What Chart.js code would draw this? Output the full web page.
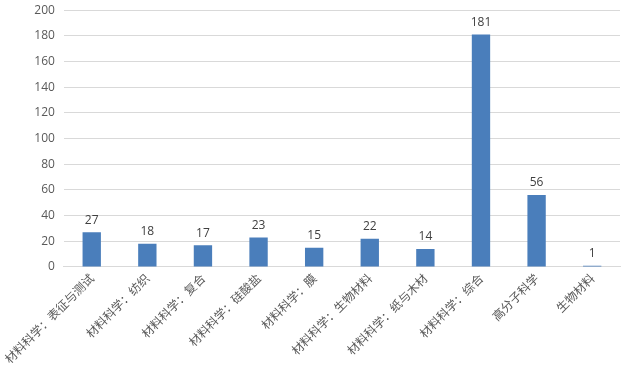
<!DOCTYPE html>
<html>
<head>
<meta charset="utf-8">
<script src="https://cdn.jsdelivr.net/npm/chart.js@4"></script>
<style>
  body { margin: 0; background: #fff; overflow: hidden; }
  #box { width: 623px; height: 378px; margin-top: -6px; }
</style>
</head>
<body>
<div id="box"><canvas id="grafico"></canvas></div>
<script>
const categorie = [
  "材料科学：表征与测试",
  "材料科学：纺织",
  "材料科学：复合",
  "材料科学：硅酸盐",
  "材料科学：膜",
  "材料科学：生物材料",
  "材料科学：纸与木材",
  "材料科学：综合",
  "高分子科学",
  "生物材料"
];
const valori = [27, 18, 17, 23, 15, 22, 14, 181, 56, 1];
const tickY = [0, 20, 40, 60, 80, 100, 120, 140, 160, 180, 200];

// etichette sopra le barre
const etichette = {
  id: "etichette",
  afterDatasetsDraw(chart) {
    const ctx = chart.ctx;
    const meta = chart.getDatasetMeta(0);
    ctx.save();
    ctx.fillStyle = "#404040";
    ctx.font = "12px 'Open Sans', 'Noto Sans', sans-serif";
    ctx.textAlign = "center";
    ctx.textBaseline = "bottom";
    meta.data.forEach((bar, i) => {
      ctx.fillText(valori[i], bar.x, bar.y - 6);
    });
    ctx.restore();
  }
};

let ctx = document.getElementById("grafico").getContext("2d");
new Chart(ctx, {
  type: "bar",
  data: {
    labels: categorie,
    datasets: [
      {
        data: valori,
        backgroundColor: "#4a7ebb",
        barPercentage: 0.6,
        categoryPercentage: 0.55
      }
    ]
  },
  options: {
    responsive: true,
    maintainAspectRatio: false,
    animation: false,
    layout: { padding: { top: 0, right: 3, left: 19, bottom: 2 } },
    plugins: {
      legend: { display: false },
      tooltip: { enabled: false }
    },
    scales: {
      x: {
        grid: { display: false, drawTicks: false },
        border: { color: "#d9d9d9" },
        ticks: {
          color: "#595959",
          font: { family: "'Noto Sans CJK SC'", size: 12 },
          minRotation: 45,
          maxRotation: 45,
          autoSkip: false,
          padding: 4
        }
      },
      y: {
        min: 0,
        max: 200,
        afterBuildTicks(scale) {
          scale.ticks = tickY.map(v => ({ value: v }));
        },
        grid: { color: "#d9d9d9", drawTicks: false },
        border: { display: false },
        ticks: {
          color: "#595959",
          font: { family: "'Open Sans', 'Noto Sans', sans-serif", size: 12 },
          padding: 9
        }
      }
    }
  },
  plugins: [etichette]
});
</script>
</body>
</html>
